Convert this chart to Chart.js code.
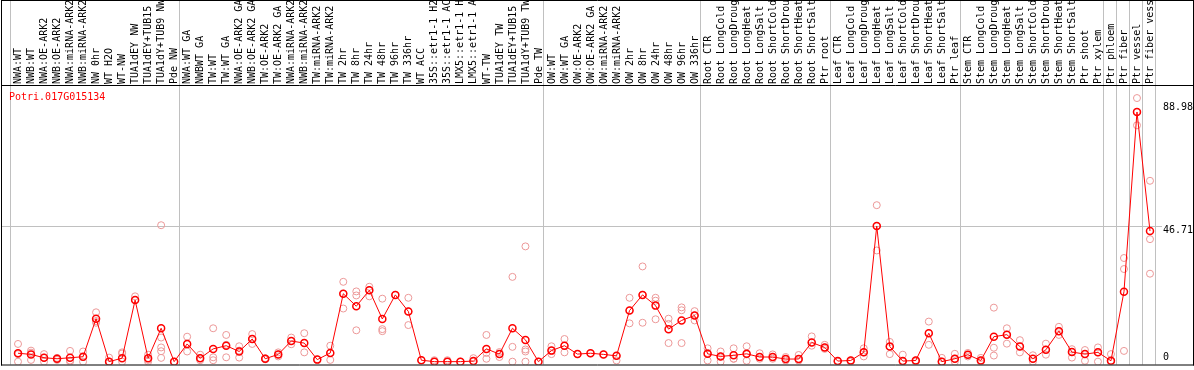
<!DOCTYPE html>
<html>
<head>
<meta charset="utf-8">
<script src="https://cdn.jsdelivr.net/npm/chart.js@4/dist/chart.umd.min.js"></script>
<style>
  html, body { margin: 0; padding: 0; background: #fff; }
  canvas { display: block; }
</style>
</head>
<body>
<canvas id="canvas" width="1194" height="370"></canvas>
<script>
let geneId = 'Potri.017G015134';

let categories = [
  'NWA:WT', 'NWB:WT', 'NWA:OE-ARK2', 'NWB:OE-ARK2', 'NWA:miRNA-ARK2', 'NWB:miRNA-ARK2',
  'NW 0hr', 'WT H2O', 'WT-NW', 'TUA1dEY NW', 'TUA1dEY+TUB15 NW', 'TUA1dY+TUB9 NW', 'Pde NW',
  'NWA:WT GA', 'NWBWT GA', 'TW:WT', 'TW:WT GA', 'NWA:OE-ARK2 GA', 'NWB:OE-ARK2 GA',
  'TW:OE-ARK2', 'TW:OE-ARK2 GA', 'NWA:miRNA-ARK2', 'NWB:miRNA-ARK2', 'TW:miRNA-ARK2', 'TW:miRNA-ARK2',
  'TW 2hr', 'TW 8hr', 'TW 24hr', 'TW 48hr', 'TW 96hr', 'TW 336hr', 'WT ACC',
  '35S::etr1-1 H2O', '35S::etr1-1 ACC', 'LMX5::etr1-1 H2O', 'LMX5::etr1-1 ACC',
  'WT-TW', 'TUA1dEY TW', 'TUA1dEY+TUB15 TW', 'TUA1dY+TUB9 TW', 'Pde TW',
  'OW:WT', 'OW:WT GA', 'OW:OE-ARK2', 'OW:OE-ARK2 GA', 'OW:miRNA-ARK2', 'OW:miRNA-ARK2',
  'OW 2hr', 'OW 8hr', 'OW 24hr', 'OW 48hr', 'OW 96hr', 'OW 336hr',
  'Root CTR', 'Root LongCold', 'Root LongDrought', 'Root LongHeat', 'Root LongSalt',
  'Root ShortCold', 'Root ShortDrought', 'Root ShortHeat', 'Root ShortSalt', 'Ptr root',
  'Leaf CTR', 'Leaf LongCold', 'Leaf LongDrought', 'Leaf LongHeat', 'Leaf LongSalt',
  'Leaf ShortCold', 'Leaf ShortDrought', 'Leaf ShortHeat', 'Leaf ShortSalt', 'Ptr leaf',
  'Stem CTR', 'Stem LongCold', 'Stem LongDrought', 'Stem LongHeat', 'Stem LongSalt',
  'Stem ShortCold', 'Stem ShortDrought', 'Stem ShortHeat', 'Stem ShortSalt', 'Ptr shoot',
  'Ptr xylem', 'Ptr phloem', 'Ptr fiber', 'Ptr vessel', 'Ptr fiber vessel'
];

// index of the last sample in each group (grey separators)
let groupEnds = [-1, 12, 40, 52, 62, 72, 83, 84, 85, 86, 87];

let meanValues = [
  2.9, 2.5, 1.35, 1.0, 1.35, 1.7, 14.8, 0, 1.2, 21.2,
  1.2, 11.5, 0, 6.1, 1.2, 4.4, 5.5, 3.5, 7.8, 1.0,
  2.5, 7.1, 6.4, 0.7, 3.0, 23.4, 19.1, 24.6, 14.7, 23.0,
  17.3, 0.5, 0, 0, 0, 0.2, 4.4, 2.6, 11.5, 7.5,
  0, 3.8, 5.5, 2.6, 2.9, 2.5, 2.0, 17.6, 23.0, 19.3,
  11.2, 14.2, 15.9, 2.7, 1.8, 2.2, 2.7, 1.6, 1.6, 0.9,
  0.9, 6.6, 4.9, 0.2, 0.4, 3.2, 46.7, 5.2, 0.2, 0.4,
  9.8, 0, 1.0, 2.4, 0.4, 8.6, 9.3, 5.2, 1.0, 4.1,
  10.5, 3.3, 2.6, 3.2, 0.3, 24.1, 86.0, 45.0
];

// single replicates per sample
let replicates = [
  [6.1, 2.6, 0], [3.8, 3.1, 0.6], [2.6, 1.4, 0], [1.3, 1.0, 0.6], [3.7, 0.4, 0],
  [3.5, 1.6, 0], [17.0, 14.0, 13.4], [1.4, 0, 0], [3.2, 2.8, 0], [22.5, 21.2],
  [2.4, 0.6, 0], [47.0, 8.3, 4.9, 3.6, 1.3], [0], [8.6, 6.1, 3.5], [2.4, 1.2, 0.5],
  [11.5, 1.5, 0.5], [9.2, 5.8, 1.5], [5.3, 3.8, 1.4], [9.5, 7.8, 6.1], [1.2, 1.0, 0.8],
  [3.2, 2.5, 1.8], [8.3, 7.1, 6.0], [9.8, 6.4, 3.2], [0.7], [5.5, 3.0, 0.6],
  [27.5, 23.4, 18.3], [24.2, 22.8, 10.8], [25.8, 24.6, 22.5], [21.7, 11.2, 10.5], [23.0],
  [22.0, 17.3, 12.6], [0.5], [0.5, 0], [0.5, 0], [0],
  [1.2, 0], [9.2, 3.0, 1.0], [3.3, 2.6, 1.6], [29.2, 5.1, 0], [39.7, 4.2, 3.5, 0],
  [0], [5.3, 3.8, 2.6], [7.8, 5.5, 3.2], [2.6], [2.9],
  [2.5], [2.0, 0.4], [22.0, 17.6, 13.2], [32.8, 23.0, 13.4], [22.0, 21.0, 14.6],
  [14.8, 13.0, 6.4], [18.7, 17.7, 6.4], [17.4, 15.9, 14.2], [4.6, 3.0, 0.4], [3.5, 1.8, 0],
  [4.6, 1.0, 1.0], [5.3, 2.5, 0.3], [2.9, 1.6, 1.0], [2.5, 1.6, 1.0], [1.6, 0.9, 0.4],
  [2.3, 0.9, 0.4], [8.7, 6.6, 5.5], [5.8, 4.9, 4.4], [0.2, 0], [0.4, 0],
  [4.6, 3.2, 1.8], [53.9, 46.7, 38.3], [6.8, 5.2, 2.6], [2.4, 0.2, 0], [0.4, 0],
  [13.8, 9.8, 5.8], [1.3, 0, 0], [2.7, 1.0, 0], [3.0, 2.4, 1.8], [1.3, 0.4, 0],
  [18.6, 4.8, 2.1], [11.5, 9.3, 6.2], [7.4, 5.2, 3.2], [2.2, 1.0, 0], [6.2, 4.1, 2.4],
  [12.0, 10.5, 9.2], [4.3, 3.3, 1.4], [4.0, 2.6, 0.3], [4.9, 3.2, 0], [2.6, 0.3, 0],
  [35.7, 31.9, 3.7], [90.8, 86.0, 81.4], [62.3, 42.2, 30.3]
];

let yTicks = [0, 46.71, 88.98];

let FONT = '10px "DejaVu Sans Mono", monospace';

// one dataset per replicate slot, null where a sample has fewer
let maxReps = Math.max(...replicates.map(r => r.length));
let repDatasets = [];
for (let k = 0; k < maxReps; k++) {
  repDatasets.push({
    label: 'rep' + (k + 1),
    data: replicates.map(r => (r[k] === undefined ? null : r[k])),
    showLine: false,
    spanGaps: false,
    pointRadius: 3.5,
    pointBorderWidth: 1,
    pointBorderColor: '#ec9898',
    pointBackgroundColor: 'rgba(0,0,0,0)',
    clip: 0,
    order: 1
  });
}

let framePlugin = {
  id: 'frame',
  beforeDatasetsDraw(chart) {
    let ctx = chart.ctx;
    let xs = chart.scales.x, ys = chart.scales.y;
    ctx.save();
    ctx.strokeStyle = '#c0c0c0';
    ctx.lineWidth = 1;
    groupEnds.forEach(i => {
      let px = Math.round(xs.getPixelForValue(i) + 5) + 0.5;
      ctx.beginPath();
      ctx.moveTo(px, 0);
      ctx.lineTo(px, chart.chartArea.bottom);
      ctx.stroke();
    });
    let gy = Math.round(ys.getPixelForValue(yTicks[1])) + 0.5;
    ctx.beginPath();
    ctx.moveTo(2, gy);
    ctx.lineTo(1162, gy);
    ctx.stroke();
    ctx.restore();
  },
  afterDraw(chart) {
    let ctx = chart.ctx;
    let ys = chart.scales.y;
    let area = chart.chartArea;
    ctx.save();
    ctx.strokeStyle = '#000';
    ctx.lineWidth = 1;
    ctx.beginPath();
    ctx.moveTo(1, 0.5); ctx.lineTo(1194, 0.5);
    ctx.moveTo(1, 85.5); ctx.lineTo(1194, 85.5);
    ctx.moveTo(1, area.bottom + 0.5); ctx.lineTo(1194, area.bottom + 0.5);
    ctx.moveTo(1.5, 0); ctx.lineTo(1.5, area.bottom + 1);
    ctx.moveTo(1193.5, 0); ctx.lineTo(1193.5, area.bottom + 1);
    ctx.stroke();

    ctx.font = FONT;
    ctx.fillStyle = '#ff0000';
    ctx.textAlign = 'left';
    ctx.textBaseline = 'alphabetic';
    ctx.fillText(geneId, 9, 100);

    ctx.fillStyle = '#000';
    yTicks.forEach(v => {
      let py = ys.getPixelForValue(v);
      ctx.textBaseline = v === 0 ? 'bottom' : 'top';
      ctx.fillText(v === 0 ? '0' : v.toFixed(2), 1163, v === 0 ? py + 1 : py - 1);
    });
    ctx.restore();
  }
};

let myChart = new Chart(document.getElementById('canvas').getContext('2d'), {
  type: 'line',
  data: {
    labels: categories,
    datasets: [{
      label: 'mean',
      data: meanValues,
      borderColor: '#ff0000',
      borderWidth: 1,
      pointRadius: 3.5,
      pointBorderWidth: 1.5,
      pointBorderColor: '#ff0000',
      pointBackgroundColor: 'rgba(0,0,0,0)',
      tension: 0,
      clip: 0,
      order: 0
    }].concat(repDatasets)
  },
  options: {
    responsive: false,
    animation: false,
    events: [],
    layout: { padding: { left: 11.5, right: 0, top: 0, bottom: 1 } },
    plugins: {
      legend: { display: false },
      tooltip: { enabled: false }
    },
    scales: {
      x: {
        type: 'category',
        position: 'top',
        offset: true,
        grid: { display: false, drawTicks: false },
        border: { display: false },
        ticks: {
          autoSkip: false,
          minRotation: 90,
          maxRotation: 90,
          padding: 2,
          labelOffset: 12.5,
          color: '#000',
          font: { family: '"DejaVu Sans Mono", monospace', size: 10 }
        },
        afterFit(scale) { scale.height = 86; }
      },
      y: {
        position: 'right',
        min: -0.98,
        max: 94.95,
        grid: { display: false },
        border: { display: false },
        ticks: { display: false },
        afterFit(scale) { scale.width = 37.5; }
      }
    }
  },
  plugins: [framePlugin]
});
</script>
</body>
</html>
